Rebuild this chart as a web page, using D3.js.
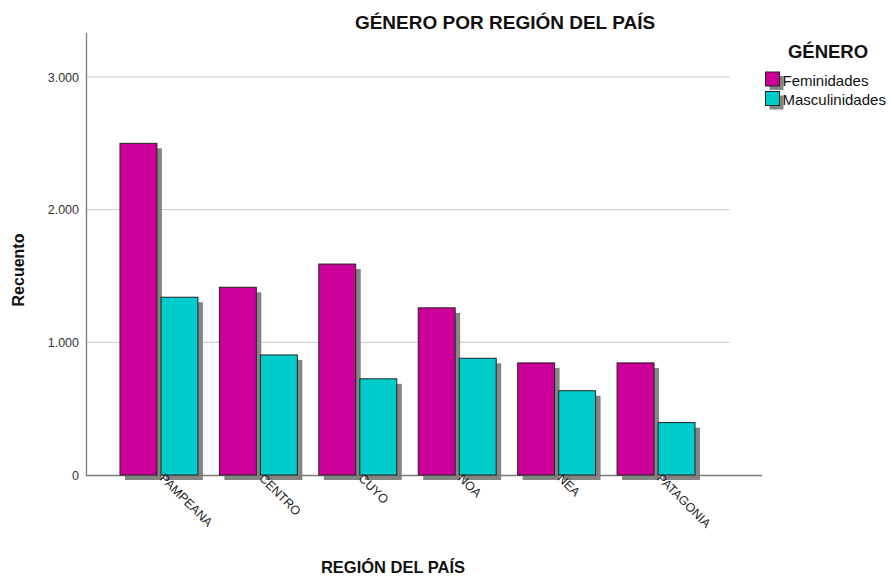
<!DOCTYPE html>
<html><head><meta charset="utf-8">
<script src="https://cdn.jsdelivr.net/npm/d3@7/dist/d3.min.js"></script>
<style>body{margin:0;background:#fff}text{font-family:Arial,"Liberation Sans",sans-serif}</style>
</head><body><svg id="c" width="893" height="576"></svg>
<script>
const categories = ["PAMPEANA","CENTRO","CUYO","NOA","NEA","PATAGONIA"];
const seriesNames = ["Feminidades","Masculinidades"];
const feminidades = [2500,1415,1590,1260,845,845];
const masculinidades = [1340,905,725,880,635,395];
const yTicks = [0,1000,2000,3000];
const colors = ["#CC0099","#00CCCC"];

const svg = d3.select("#c");
const y = d3.scaleLinear().domain([0,3000]).range([475,77]);
const x = d3.scaleBand().domain(categories).range([109.25,705.75]).paddingInner(0.216).paddingOuter(0.108);
const xs = d3.scaleBand().domain(seriesNames).range([0,x.bandwidth()]).paddingInner(0.1);
const fmt = v => d3.format(",")(v).replace(/,/g,".");

// gridlines
svg.append("g").selectAll("line").data(yTicks.filter(d=>d>0)).join("line")
  .attr("x1",86).attr("x2",730).attr("y1",d=>y(d)).attr("y2",d=>y(d))
  .attr("stroke","#c8c8c8").attr("stroke-width",1);

const data = [];
categories.forEach((c,i)=>{
  data.push({c,s:seriesNames[0],v:feminidades[i]});
  data.push({c,s:seriesNames[1],v:masculinidades[i]});
});
// shadows
svg.append("g").selectAll("rect").data(data).join("rect")
  .attr("x",d=>x(d.c)+xs(d.s)+5).attr("y",d=>y(d.v)+5)
  .attr("width",xs.bandwidth()).attr("height",d=>y(0)-y(d.v))
  .attr("fill","#858585");
// x axis line
svg.append("line").attr("x1",86).attr("x2",762).attr("y1",475.5).attr("y2",475.5).attr("stroke","#7a7a7a").attr("stroke-width",1.3);
// bars
svg.append("g").selectAll("rect").data(data).join("rect")
  .attr("x",d=>x(d.c)+xs(d.s)).attr("y",d=>y(d.v))
  .attr("width",xs.bandwidth()).attr("height",d=>y(0)-y(d.v))
  .attr("fill",d=>colors[seriesNames.indexOf(d.s)])
  .attr("stroke","#222").attr("stroke-width",1);
// y axis line
svg.append("line").attr("x1",86.5).attr("x2",86.5).attr("y1",33).attr("y2",476).attr("stroke","#7a7a7a").attr("stroke-width",1.3);
// y tick labels
svg.append("g").selectAll("text").data(yTicks).join("text")
  .attr("x",79).attr("y",d=>y(d)+4.5).attr("text-anchor","end")
  .attr("font-size",12.5).attr("fill","#333").text(fmt);
// x tick labels
svg.append("g").selectAll("text").data(categories).join("text")
  .attr("transform",d=>`translate(${x(d)+x.bandwidth()/2},${479}) rotate(45)`)
  .attr("text-anchor","start").attr("font-size",12.5).attr("fill","#222").text(d=>d);
// titles
svg.append("text").attr("x",505).attr("y",29).attr("text-anchor","middle").attr("font-size",19).attr("font-weight","bold").attr("fill","#111").text("GÉNERO POR REGIÓN DEL PAÍS");
svg.append("text").attr("x",393).attr("y",573).attr("text-anchor","middle").attr("font-size",16.5).attr("font-weight","bold").attr("fill","#111").text("REGIÓN DEL PAÍS");
svg.append("text").attr("transform","translate(24,270) rotate(-90)").attr("text-anchor","middle").attr("font-size",16).attr("font-weight","bold").attr("fill","#111").text("Recuento");
// legend
svg.append("text").attr("x",828).attr("y",58).attr("text-anchor","middle").attr("font-size",18.5).attr("font-weight","bold").attr("fill","#111").text("GÉNERO");
const lg = svg.append("g").selectAll("g").data(seriesNames).join("g")
  .attr("transform",(d,i)=>`translate(765.5,${72+i*19.5})`);
lg.append("rect").attr("x",4).attr("y",4).attr("width",14).attr("height",14).attr("fill","#858585");
lg.append("rect").attr("width",14).attr("height",14).attr("fill",(d,i)=>colors[i]).attr("stroke","#222");
lg.append("text").attr("x",17).attr("y",13.5).attr("font-size",15).attr("fill","#111").text(d=>d);
</script></body></html>
